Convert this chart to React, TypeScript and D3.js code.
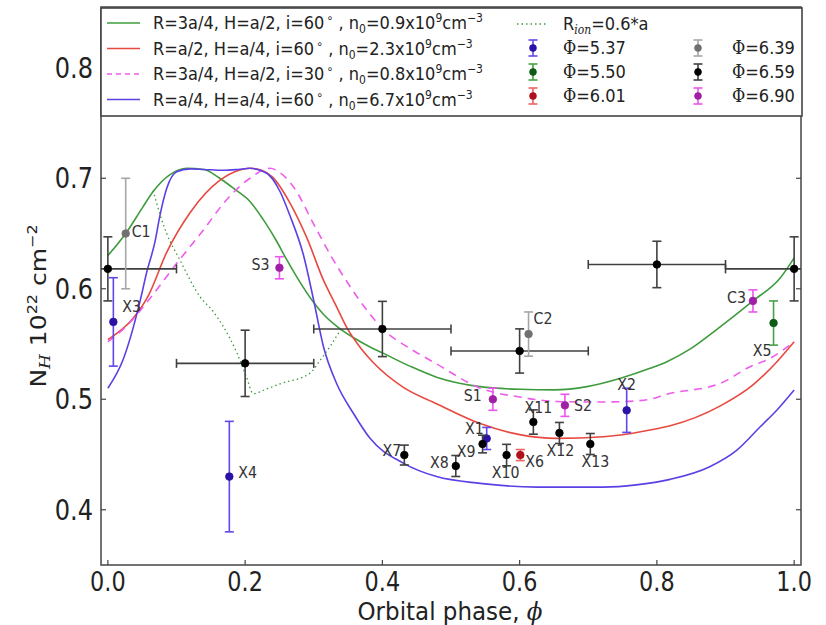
import React from 'react';
import * as d3 from 'd3';

// ---------- data ----------
const phaseTicks = [0.0, 0.2, 0.4, 0.6, 0.8, 1.0];
const nhTicks = [0.4, 0.5, 0.6, 0.7, 0.8];

// model curves [phase, N_H]
const modelGreen: [number, number][] = [
  [0.0, 0.630], [0.026, 0.650], [0.05, 0.673], [0.066, 0.688], [0.09, 0.703], [0.115, 0.709],
  [0.14, 0.708], [0.163, 0.700], [0.185, 0.690], [0.207, 0.679], [0.226, 0.663], [0.246, 0.643],
  [0.26, 0.627], [0.275, 0.611], [0.2994, 0.588], [0.314, 0.577], [0.338, 0.564], [0.36, 0.555],
  [0.38, 0.548], [0.40, 0.542], [0.44, 0.530], [0.479, 0.520], [0.5425, 0.5114], [0.6, 0.509],
  [0.65, 0.5085], [0.698, 0.5114], [0.747, 0.519], [0.79, 0.528], [0.8146, 0.534], [0.85, 0.546],
  [0.887, 0.563], [0.94, 0.589], [0.98, 0.610], [1.0, 0.628],
];
const modelRed: [number, number][] = [
  [0.0, 0.554], [0.0365, 0.573], [0.06, 0.595], [0.085, 0.632], [0.12, 0.669], [0.163, 0.698],
  [0.19, 0.707], [0.207, 0.709], [0.225, 0.707], [0.24, 0.701], [0.265, 0.678], [0.29, 0.646],
  [0.314, 0.608], [0.333, 0.584], [0.348, 0.565], [0.37, 0.545], [0.387, 0.533], [0.43, 0.511],
  [0.479, 0.496], [0.5425, 0.478], [0.6, 0.468], [0.654, 0.4646], [0.722, 0.466], [0.747, 0.4676],
  [0.79, 0.4722], [0.8193, 0.476], [0.8925, 0.494], [0.94, 0.513], [0.975, 0.534], [1.0, 0.552],
];
const modelMagenta: [number, number][] = [
  [0.0, 0.552], [0.03, 0.568], [0.061, 0.591], [0.1003, 0.623], [0.134, 0.649], [0.178, 0.684],
  [0.207, 0.700], [0.236, 0.709], [0.255, 0.703], [0.275, 0.688], [0.297, 0.662], [0.3286, 0.626],
  [0.353, 0.602], [0.377, 0.581], [0.4015, 0.563], [0.44, 0.546], [0.479, 0.532], [0.5425, 0.510],
  [0.6, 0.502], [0.654, 0.498], [0.7, 0.4975], [0.747, 0.4978], [0.79, 0.500], [0.8146, 0.5045],
  [0.8925, 0.5144], [0.936, 0.5295], [0.965, 0.537], [1.0, 0.552],
];
const modelBlue: [number, number][] = [
  [0.0, 0.510], [0.022, 0.5355], [0.047, 0.589], [0.0566, 0.615], [0.0687, 0.6426], [0.076, 0.6667],
  [0.0857, 0.6908], [0.1003, 0.706], [0.12, 0.7085], [0.14, 0.708], [0.168, 0.7072], [0.19, 0.708],
  [0.207, 0.709], [0.2315, 0.7045], [0.251, 0.6878], [0.265, 0.6667], [0.285, 0.6305], [0.2994, 0.591],
  [0.314, 0.548], [0.3335, 0.514], [0.3577, 0.4873], [0.382, 0.4646], [0.431, 0.442], [0.479, 0.430],
  [0.5425, 0.4239], [0.625, 0.4205], [0.722, 0.4205], [0.77, 0.4225], [0.8193, 0.4275], [0.877, 0.439],
  [0.9166, 0.454], [0.9506, 0.4751], [0.975, 0.4903], [1.0, 0.5084],
];
const ionDotted: [number, number][] = [
  [0.066, 0.689], [0.076, 0.667], [0.0857, 0.650], [0.105, 0.626], [0.134, 0.593], [0.154, 0.579],
  [0.168, 0.566], [0.188, 0.542], [0.202, 0.520], [0.212, 0.505], [0.23, 0.509], [0.251, 0.514],
  [0.2945, 0.5235], [0.309, 0.535], [0.324, 0.548], [0.341, 0.565],
];

// model legend parameters
const modelR = ['3a/4', 'a/2', '3a/4', 'a/4'];
const modelH = ['a/2', 'a/4', 'a/2', 'a/4'];
const modelInc = ['60', '60', '30', '60'];
const modelN0 = ['0.9', '2.3', '0.8', '6.7'];

// observations
type Obs = { name: string; phase: number; nh: number; err: number };
const obs537: Obs[] = [
  { name: 'X3', phase: 0.008, nh: 0.570, err: 0.040 },
  { name: 'X4', phase: 0.177, nh: 0.430, err: 0.050 },
  { name: 'X1', phase: 0.552, nh: 0.4645, err: 0.010 },
  { name: 'X2', phase: 0.756, nh: 0.490, err: 0.020 },
];
const obs550: Obs[] = [{ name: 'X5', phase: 0.970, nh: 0.569, err: 0.020 }];
const obs601: Obs[] = [{ name: 'X6', phase: 0.601, nh: 0.4495, err: 0.005 }];
const obs639: Obs[] = [
  { name: 'C1', phase: 0.026, nh: 0.650, err: 0.050 },
  { name: 'C2', phase: 0.613, nh: 0.559, err: 0.020 },
];
const obs659: Obs[] = [
  { name: 'X7', phase: 0.432, nh: 0.4495, err: 0.009 },
  { name: 'X8', phase: 0.507, nh: 0.4396, err: 0.0095 },
  { name: 'X9', phase: 0.546, nh: 0.4595, err: 0.008 },
  { name: 'X10', phase: 0.581, nh: 0.4495, err: 0.0097 },
  { name: 'X11', phase: 0.620, nh: 0.4794, err: 0.011 },
  { name: 'X12', phase: 0.658, nh: 0.4695, err: 0.0095 },
  { name: 'X13', phase: 0.703, nh: 0.4595, err: 0.0095 },
];
const obs690: Obs[] = [
  { name: 'S3', phase: 0.250, nh: 0.619, err: 0.010 },
  { name: 'S1', phase: 0.561, nh: 0.500, err: 0.010 },
  { name: 'S2', phase: 0.666, nh: 0.4945, err: 0.010 },
  { name: 'C3', phase: 0.940, nh: 0.589, err: 0.010 },
];
// phase-binned Φ=6.59 averages
const binPhase = [0.0, 0.2, 0.4, 0.6, 0.8, 1.0];
const binNH = [0.618, 0.5325, 0.5636, 0.5437, 0.622, 0.618];
const binErr = [0.029, 0.030, 0.025, 0.020, 0.021, 0.029];
const binHalfWidth = 0.1;

const phiLabels = ['5.37', '5.50', '6.01', '6.39', '6.59', '6.90'];

// ---------- styles ----------
const modelColors = ['#3e9c3e', '#e8493f', '#ee5cee', '#5c40e4'];
const groupBar = ['#6246e8', '#48a048', '#ea6464', '#a6a6a6', '#404040', '#ee55ee'];
const groupMark = ['#2a12a6', '#0c5c16', '#b0101c', '#707070', '#000000', '#a020a4'];
const labelOffset: Record<string, [number, number, string]> = {
  C1: [6, -3, 'start'], C2: [5, -16, 'start'], C3: [-7, -4, 'end'],
  S1: [-11, -4, 'end'], S2: [9, 0, 'start'], S3: [-10, -4, 'end'],
  X1: [-3, -10, 'end'], X2: [0, -26, 'middle'], X3: [9, -16, 'start'], X4: [9, -5, 'start'],
  X5: [-2, 27, 'end'], X6: [5, 6, 'start'], X7: [-3, -5, 'end'], X8: [-7, -4, 'end'],
  X9: [-7, 7, 'end'], X10: [-1, 17, 'middle'], X11: [5, -15, 'middle'], X12: [1, 17, 'middle'],
  X13: [5, 17, 'middle'],
};

const SX = 0.86;
const L = 101, R = 801, T = 7, B = 565;

const xs = d3.scaleLinear().domain([-0.01, 1.01]).range([L, R]);
const ys = d3.scaleLinear().domain([0.35, 0.855]).range([B, T]);

function Txt(props: { x: number; y: number; size: number; anchor?: string; fill?: string; children: any; sx?: number }) {
  const { x, y, size, anchor = 'start', fill = '#222', children, sx = SX } = props;
  return (
    <text transform={`translate(${x},${y}) scale(${sx},1)`} fontSize={size} textAnchor={anchor} fill={fill}>
      {children}
    </text>
  );
}

function ErrBar({ px, py, top, bot, left, right, bar, mark, r = 3.8 }: any) {
  const cap = 4.5;
  return (
    <g>
      {left !== undefined && (
        <g stroke={bar} strokeWidth={1.6}>
          <line x1={left} x2={right} y1={py} y2={py} />
          <line x1={left} x2={left} y1={py - cap} y2={py + cap} />
          <line x1={right} x2={right} y1={py - cap} y2={py + cap} />
        </g>
      )}
      <g stroke={bar} strokeWidth={1.6}>
        <line x1={px} x2={px} y1={top} y2={bot} />
        <line x1={px - cap} x2={px + cap} y1={top} y2={top} />
        <line x1={px - cap} x2={px + cap} y1={bot} y2={bot} />
      </g>
      <circle cx={px} cy={py} r={r} fill={mark} stroke={mark} strokeWidth={0.8} />
    </g>
  );
}

export default function App() {
  const line = d3.line<[number, number]>().x(d => xs(d[0])).y(d => ys(d[1])).curve(d3.curveMonotoneX);
  const groups = [obs537, obs550, obs601, obs639, obs659, obs690];
  const models = [modelGreen, modelRed, modelMagenta, modelBlue];
  const dashes = [undefined, undefined, '8,6', undefined];

  const rowY1 = [23, 48.5, 74, 99.5];
  const rowY2 = [48, 72, 96];

  return (
    <svg width={826} height={625} style={{ position: 'absolute', left: 0, top: 0 }} fontFamily="DejaVu Sans">
      <rect x={0} y={0} width={826} height={625} fill="#fff" />
      <defs>
        <clipPath id="plotArea">
          <rect x={L} y={T} width={R - L} height={B - T} />
        </clipPath>
      </defs>
      <g clipPath="url(#plotArea)">
        {models.map((m, i) => (
          <path key={i} d={line(m) || ''} fill="none" stroke={modelColors[i]} strokeWidth={1.6}
            strokeDasharray={dashes[i]} />
        ))}
        <path d={line(ionDotted) || ''} fill="none" stroke="#3e9c3e" strokeWidth={1.3} strokeDasharray="1.5,3" />
        {binPhase.map((p, i) => (
          <ErrBar key={'b' + i} px={xs(p)} py={ys(binNH[i])} top={ys(binNH[i] + binErr[i])} bot={ys(binNH[i] - binErr[i])}
            left={xs(p - binHalfWidth)} right={xs(p + binHalfWidth)} bar={groupBar[4]} mark={groupMark[4]} />
        ))}
        {groups.map((g, gi) => g.map((o, i) => (
          <ErrBar key={gi + '-' + i} px={xs(o.phase)} py={ys(o.nh)} top={ys(o.nh + o.err)} bot={ys(o.nh - o.err)}
            bar={groupBar[gi]} mark={groupMark[gi]} />
        )))}
      </g>
      {groups.map((g, gi) => g.map((o, i) => {
        const off = labelOffset[o.name];
        return (
          <Txt key={'l' + gi + i} x={xs(o.phase) + off[0]} y={ys(o.nh) + off[1] + 6} size={16.5} anchor={off[2]} fill="#333">
            {o.name}
          </Txt>
        );
      }))}

      {/* axes frame */}
      <rect x={L} y={T} width={R - L} height={B - T} fill="none" stroke="#444" strokeWidth={1.5} />
      {phaseTicks.map(t => (
        <g key={'xt' + t}>
          <line x1={xs(t)} x2={xs(t)} y1={B} y2={B - 5} stroke="#444" strokeWidth={1.2} />
          <Txt x={xs(t)} y={591} size={26} anchor="middle">{t.toFixed(1)}</Txt>
        </g>
      ))}
      {nhTicks.map(t => (
        <g key={'yt' + t}>
          <line x1={L} x2={L + 5} y1={ys(t)} y2={ys(t)} stroke="#444" strokeWidth={1.2} />
          <line x1={R} x2={R - 5} y1={ys(t)} y2={ys(t)} stroke="#444" strokeWidth={1.2} />
          <Txt x={93} y={ys(t) + 10} size={28} anchor="end">{t.toFixed(1)}</Txt>
        </g>
      ))}
      <Txt x={450} y={620} size={25} anchor="middle" sx={0.92}>
        Orbital phase, <tspan fontFamily="DejaVu Serif" fontStyle="italic">ϕ</tspan>
      </Txt>
      <text transform={`translate(46,306) rotate(-90) scale(1,${SX})`} fontSize={25} textAnchor="middle" fill="#222">
        N<tspan fontSize={17} dy={5} fontStyle="italic" fontFamily="DejaVu Serif">H</tspan>
        <tspan dy={-5}> 10</tspan><tspan fontSize={16} dy={-11}>22</tspan>
        <tspan dy={11}> cm</tspan><tspan fontSize={16} dy={-11}>−2</tspan>
      </text>

      {/* legend */}
      <rect x={L} y={8} width={R - L + 1} height={108} fill="#fff" stroke="#444" strokeWidth={1.6} />
      {modelR.map((r, i) => (
        <g key={'ml' + i}>
          <line x1={107} x2={140} y1={rowY1[i]} y2={rowY1[i]} stroke={modelColors[i]} strokeWidth={1.6}
            strokeDasharray={dashes[i] ? '5,4' : undefined} />
          <Txt x={153} y={rowY1[i] + 6} size={18} sx={0.9}>
            {`R=${r}, H=${modelH[i]}, i=${modelInc[i]}`}
            <tspan fontSize={12} dy={-7}>{'\u2009∘'}</tspan>
            <tspan dy={7}>{` ,${i === 1 ? '  ' : ' '}n`}</tspan>
            <tspan fontSize={12} dy={4}>0</tspan>
            <tspan dy={-4}>{`=${modelN0[i]}x10`}</tspan>
            <tspan fontSize={12} dy={-7}>9</tspan>
            <tspan dy={7}>cm</tspan>
            <tspan fontSize={12} dy={-7}>−3</tspan>
          </Txt>
        </g>
      ))}
      <line x1={517} x2={547} y1={24} y2={24} stroke="#3e9c3e" strokeWidth={1.3} strokeDasharray="1.5,3" />
      <Txt x={563} y={30} size={18} sx={0.9}>
        R<tspan fontSize={12} dy={4} fontStyle="italic" fontFamily="DejaVu Serif">ion</tspan>
        <tspan dy={-4}>=0.6*a</tspan>
      </Txt>
      {phiLabels.map((p, i) => {
        const col = i < 3 ? 0 : 1;
        const mx = col === 0 ? 533 : 698;
        const tx = col === 0 ? 563 : 732;
        const yy = rowY2[i % 3];
        return (
          <g key={'pl' + i}>
            <ErrBar px={mx} py={yy} top={yy - 8} bot={yy + 8} bar={groupBar[i]} mark={groupMark[i]} r={3.4} />
            <Txt x={tx} y={yy + 6} size={18} sx={0.9}>
              <tspan fontFamily="DejaVu Serif">Φ</tspan>={p}
            </Txt>
          </g>
        );
      })}
    </svg>
  );
}
